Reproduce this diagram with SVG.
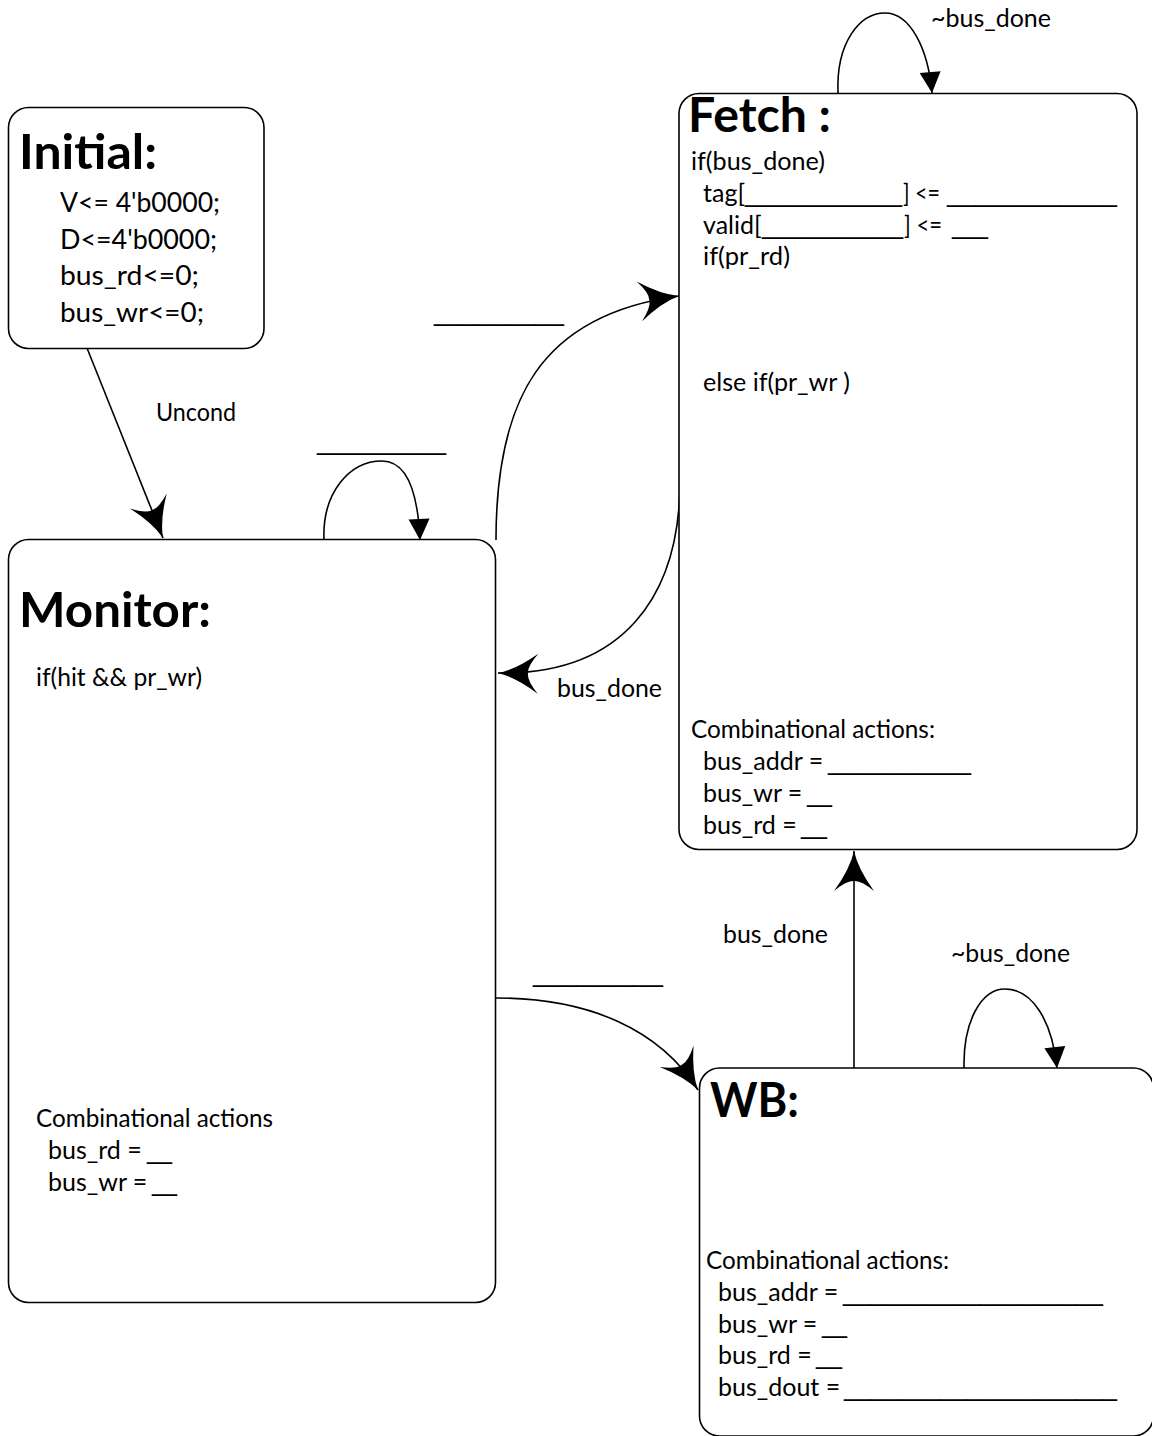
<svg xmlns="http://www.w3.org/2000/svg" width="1152" height="1436" viewBox="0 0 1152 1436">
  <style>
    .box { fill: #ffffff; stroke: #000000; stroke-width: 1.6; }
    .edge { fill: none; stroke: #000000; stroke-width: 1.6; }
    .title { font-family: Lato, "Liberation Sans", sans-serif; font-weight: bold; font-size: 47px; fill: #000000; }
    .body { font-family: Lato, "Liberation Sans", sans-serif; font-size: 25px; fill: #000000; }
    .init { font-family: Lato, "Liberation Sans", sans-serif; font-size: 26px; fill: #000000; }
    .lbl { font-family: Lato, "Liberation Sans", sans-serif; font-size: 25px; fill: #000000; }
    /* fill-in blanks: a face whose underscores join into one solid rule */
    .u { font-family: "Liberation Sans", sans-serif; }
  </style>
  <defs>
    <!-- swept (stealth) arrowhead for state transitions -->
    <marker id="stealth" markerUnits="userSpaceOnUse" viewBox="-44 -24 48 48" markerWidth="48" markerHeight="48" refX="0" refY="0" orient="auto" overflow="visible">
      <path d="M0,0 Q-18,-4 -40,-20 Q-29,-7 -30,0 Q-29,7 -40,20 Q-18,4 0,0 Z" fill="#000000"/>
    </marker>
    <!-- plain filled triangle for self loops -->
    <marker id="tri" markerUnits="userSpaceOnUse" viewBox="-24 -12 26 24" markerWidth="26" markerHeight="24" refX="0" refY="0" orient="auto" overflow="visible">
      <path d="M0,0 L-21,-10.5 L-21,10.5 Z" fill="#000000"/>
    </marker>
  </defs>

  <rect x="0" y="0" width="1152" height="1436" fill="#ffffff"/>

  <!-- transitions -->
  <g id="connectors">
    <path class="edge" d="M87,348 L163,538" marker-end="url(#stealth)"/>
    <path class="edge" d="M324,540 C322,492 350,461 382,461 C408,461 418,495 420,540" marker-end="url(#tri)"/>
    <path class="edge" d="M496,540 C496,400 540,315 679,296" marker-end="url(#stealth)"/>
    <path class="edge" d="M680,474 C682,600 620,675 498,673" marker-end="url(#stealth)"/>
    <path class="edge" d="M838,93 C836,42 860,13 885,13 C910,13 928,48 932,93" marker-end="url(#tri)"/>
    <path class="edge" d="M496,998 C590,998 660,1030 698,1090" marker-end="url(#stealth)"/>
    <path class="edge" d="M854,1068 L854,851" marker-end="url(#stealth)"/>
    <path class="edge" d="M964,1068 C963,1020 982,989 1005,989 C1032,989 1052,1020 1057,1068" marker-end="url(#tri)"/>

    <text class="lbl" x="156" y="421" textLength="80" lengthAdjust="spacingAndGlyphs">Uncond</text>
    <text class="lbl u" x="317" y="450" textLength="129" lengthAdjust="spacingAndGlyphs">_________</text>
    <text class="lbl u" x="434" y="321" textLength="130" lengthAdjust="spacingAndGlyphs">_________</text>
    <text class="lbl" x="557" y="697" textLength="105" lengthAdjust="spacingAndGlyphs">bus_done</text>
    <text class="lbl" x="931" y="27" textLength="120" lengthAdjust="spacingAndGlyphs">~bus_done</text>
    <text class="lbl" x="723" y="943" textLength="105" lengthAdjust="spacingAndGlyphs">bus_done</text>
    <text class="lbl" x="951" y="962" textLength="119" lengthAdjust="spacingAndGlyphs">~bus_done</text>
    <text class="lbl u" x="533" y="982" textLength="130" lengthAdjust="spacingAndGlyphs">_________</text>
  </g>

  <!-- Initial state -->
  <g id="initial">
    <rect class="box" x="8.5" y="107.5" width="255.5" height="241" rx="20" ry="20"/>
    <text class="title" x="19" y="169" textLength="138" lengthAdjust="spacingAndGlyphs">Initial:</text>
    <text class="init" x="60" y="212" textLength="160" lengthAdjust="spacingAndGlyphs">V&lt;= 4'b0000;</text>
    <text class="init" x="60" y="249" textLength="157" lengthAdjust="spacingAndGlyphs">D&lt;=4'b0000;</text>
    <text class="init" x="60" y="285" textLength="139" lengthAdjust="spacingAndGlyphs">bus_rd&lt;=0;</text>
    <text class="init" x="60" y="322" textLength="144" lengthAdjust="spacingAndGlyphs">bus_wr&lt;=0;</text>
  </g>

  <!-- Monitor state -->
  <g id="monitor">
    <rect class="box" x="8.5" y="539.5" width="487" height="763" rx="20" ry="20"/>
    <text class="title" x="19" y="627" textLength="192" lengthAdjust="spacingAndGlyphs">Monitor:</text>
    <text class="body" x="36" y="686" textLength="166" lengthAdjust="spacingAndGlyphs">if(hit &amp;&amp; pr_wr)</text>
    <text class="body" x="36" y="1127" textLength="237" lengthAdjust="spacingAndGlyphs">Combinational actions</text>
    <text class="body" x="48" y="1159">bus_rd = <tspan class="u" x="147" textLength="25" lengthAdjust="spacingAndGlyphs">__</tspan></text>
    <text class="body" x="48" y="1191">bus_wr = <tspan class="u" x="152" textLength="25" lengthAdjust="spacingAndGlyphs">__</tspan></text>
  </g>

  <!-- Fetch state -->
  <g id="fetch">
    <rect class="box" x="679" y="93.5" width="458" height="756" rx="20" ry="20"/>
    <text class="title" x="688" y="132" textLength="143" lengthAdjust="spacingAndGlyphs">Fetch :</text>
    <text class="body" x="691" y="170" textLength="134" lengthAdjust="spacingAndGlyphs">if(bus_done)</text>
    <text class="body" x="703" y="202">tag[<tspan class="u" x="745" textLength="157" lengthAdjust="spacingAndGlyphs">___________</tspan><tspan x="903" textLength="37" lengthAdjust="spacingAndGlyphs">] &lt;=</tspan><tspan class="u" x="947" textLength="170" lengthAdjust="spacingAndGlyphs">____________</tspan></text>
    <text class="body" x="703" y="234">valid[<tspan class="u" x="762" textLength="141" lengthAdjust="spacingAndGlyphs">__________</tspan><tspan x="904" textLength="38" lengthAdjust="spacingAndGlyphs">] &lt;=</tspan><tspan class="u" x="952" textLength="36" lengthAdjust="spacingAndGlyphs">___</tspan></text>
    <text class="body" x="703" y="265" textLength="87" lengthAdjust="spacingAndGlyphs">if(pr_rd)</text>
    <text class="body" x="703" y="391" textLength="147" lengthAdjust="spacingAndGlyphs">else if(pr_wr )</text>
    <text class="body" x="691" y="738" textLength="244" lengthAdjust="spacingAndGlyphs">Combinational actions:</text>
    <text class="body" x="703" y="770">bus_addr = <tspan class="u" x="828" textLength="143" lengthAdjust="spacingAndGlyphs">__________</tspan></text>
    <text class="body" x="703" y="802">bus_wr = <tspan class="u" x="807" textLength="25" lengthAdjust="spacingAndGlyphs">__</tspan></text>
    <text class="body" x="703" y="834">bus_rd = <tspan class="u" x="801" textLength="26" lengthAdjust="spacingAndGlyphs">__</tspan></text>
  </g>

  <!-- Write-back state -->
  <g id="wb">
    <rect class="box" x="699.5" y="1068" width="454" height="368" rx="20" ry="20"/>
    <text class="title" x="710" y="1117" textLength="89" lengthAdjust="spacingAndGlyphs">WB:</text>
    <text class="body" x="706" y="1269" textLength="243" lengthAdjust="spacingAndGlyphs">Combinational actions:</text>
    <text class="body" x="718" y="1301">bus_addr = <tspan class="u" x="843" textLength="260" lengthAdjust="spacingAndGlyphs">___________________</tspan></text>
    <text class="body" x="718" y="1333">bus_wr = <tspan class="u" x="822" textLength="25" lengthAdjust="spacingAndGlyphs">__</tspan></text>
    <text class="body" x="718" y="1364">bus_rd = <tspan class="u" x="816" textLength="26" lengthAdjust="spacingAndGlyphs">__</tspan></text>
    <text class="body" x="718" y="1396">bus_dout = <tspan class="u" x="844" textLength="273" lengthAdjust="spacingAndGlyphs">____________________</tspan></text>
  </g>
</svg>
